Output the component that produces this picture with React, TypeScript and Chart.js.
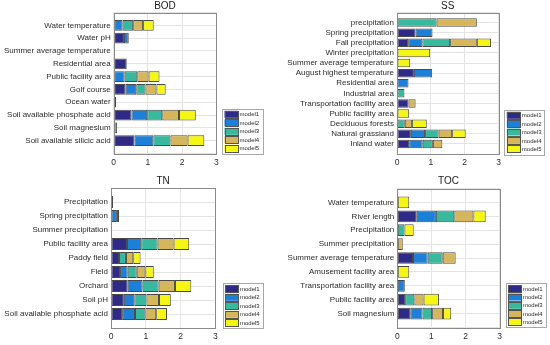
import React, { useEffect, useRef } from 'react';
import { Chart, registerables } from 'chart.js';

Chart.register(...registerables);

const MODELS = ['model1', 'model2', 'model3', 'model4', 'model5'];
const COLORS = ['#2e2a86', '#1c80d8', '#38b89c', '#d6b65c', '#f6f614'];

// ---------- BOD ----------
const BOD_LABELS = [
  'Water temperature', 'Water pH', 'Summer average temperature', 'Residential area',
  'Public facility area', 'Golf course', 'Ocean water', 'Soil available phosphate acid',
  'Soil magnesium', 'Soil available silicic acid',
];
const BOD_M1 = [0, 0.30, 0, 0.38, 0, 0.35, 0, 0.52, 0, 0.61];
const BOD_M2 = [0.26, 0.14, 0, 0, 0.32, 0.31, 0, 0.46, 0, 0.55];
const BOD_M3 = [0.31, 0, 0, 0, 0.37, 0.27, 0, 0.44, 0.10, 0.50];
const BOD_M4 = [0.29, 0, 0.04, 0, 0.33, 0.32, 0, 0.49, 0, 0.50];
const BOD_M5 = [0.31, 0, 0, 0, 0.32, 0.27, 0.07, 0.49, 0, 0.49];

// ---------- SS ----------
const SS_LABELS = [
  'precipitation', 'Spring precipitation', 'Fall precipitation', 'Winter precipitation',
  'Summer average temperature', 'August highest temperature', 'Residential area',
  'Industrial area', 'Transportation facility area', 'Public facility area',
  'Deciduous forests', 'Natural grassland', 'Inland water',
];
const SS_M1 = [0, 0.55, 0.33, 0, 0, 0.50, 0, 0, 0.34, 0, 0, 0.41, 0.36];
const SS_M2 = [0, 0.50, 0.42, 0, 0, 0.54, 0.34, 0, 0, 0, 0, 0.42, 0.40];
const SS_M3 = [1.17, 0, 0.82, 0, 0, 0, 0, 0.22, 0, 0, 0.23, 0.40, 0.30];
const SS_M4 = [1.19, 0, 0.79, 0, 0, 0, 0, 0, 0.21, 0, 0.21, 0.40, 0.28];
const SS_M5 = [0, 0, 0.42, 0.98, 0.39, 0, 0, 0, 0, 0.36, 0.44, 0.40, 0];

// ---------- TN ----------
const TN_LABELS = [
  'Precipitation', 'Spring precipitation', 'Summer precipitation', 'Public facility area',
  'Paddy field', 'Field', 'Orchard', 'Soil pH', 'Soil available phosphate acid',
];
const TN_M1 = [0, 0, 0, 0.46, 0.23, 0.26, 0.48, 0.37, 0.32];
const TN_M2 = [0, 0.17, 0, 0.41, 0, 0.22, 0.43, 0.30, 0.37];
const TN_M3 = [0.06, 0, 0, 0.47, 0.20, 0.26, 0.46, 0.35, 0.30];
const TN_M4 = [0, 0.03, 0.03, 0.46, 0.21, 0.25, 0.47, 0.36, 0.31];
const TN_M5 = [0, 0.03, 0, 0.45, 0.21, 0.24, 0.47, 0.34, 0.31];

// ---------- TOC ----------
const TOC_LABELS = [
  'Water temperature', 'River length', 'Precipitation', 'Summer precipitation',
  'Summer average temperature', 'Amusement facility area', 'Transportation facility area',
  'Public facility area', 'Soil magnesium',
];
const TOC_M1 = [0, 0.57, 0, 0, 0.46, 0, 0, 0.23, 0.38];
const TOC_M2 = [0, 0.56, 0, 0, 0.43, 0, 0.22, 0, 0.36];
const TOC_M3 = [0, 0.54, 0.21, 0, 0.44, 0, 0, 0.27, 0.28];
const TOC_M4 = [0, 0.56, 0, 0.16, 0.38, 0, 0, 0.27, 0.32];
const TOC_M5 = [0.35, 0.36, 0.27, 0, 0, 0.35, 0, 0.45, 0.24];

const X_MIN = 0;
const X_MAX = 3;

const FONT = "'Liberation Sans', Arial, Helvetica, sans-serif";
const TEXT = '#2b2b2b';

type Area = { left: number; right: number; top: number; bottom: number };
type Box = { x: number; y: number; w: number; h: number };

type PanelProps = {
  title: string;
  labels: string[];
  series: number[][];
  left: number;
  top: number;
  width: number;
  height: number;
  area: Area;
  legend: Box;
  titleGap: number;
};

function Panel(p: PanelProps) {
  const ref = useRef<HTMLCanvasElement | null>(null);
  useEffect(() => {
    const canvas = ref.current;
    if (!canvas) return;
    const padded = ['', ...p.labels, ''];
    const X_AXIS_H = 14;
    const deco = {
      id: 'panelDeco',
      afterDraw(chart: any) {
        const ctx = chart.ctx;
        const a = chart.chartArea;
        ctx.save();
        // axes box
        ctx.strokeStyle = '#8a8a8a';
        ctx.lineWidth = 1;
        ctx.strokeRect(Math.round(a.left) + 0.5, Math.round(a.top) + 0.5,
          Math.round(a.right) - Math.round(a.left), Math.round(a.bottom) - Math.round(a.top));
        // title
        ctx.fillStyle = '#1a1a1a';
        ctx.font = `10px ${FONT}`;
        ctx.textAlign = 'center';
        ctx.textBaseline = 'middle';
        ctx.fillText(p.title, (a.left + a.right) / 2, a.top - p.titleGap);
        // legend
        const L = p.legend;
        ctx.fillStyle = '#ffffff';
        ctx.fillRect(L.x, L.y, L.w, L.h);
        ctx.strokeStyle = '#a8a8a8';
        ctx.strokeRect(Math.round(L.x) + 0.5, Math.round(L.y) + 0.5, Math.round(L.w), Math.round(L.h));
        const n = chart.data.datasets.length;
        const step = (L.h - 11) / (n - 1);
        ctx.font = `6px ${FONT}`;
        ctx.textAlign = 'left';
        chart.data.datasets.forEach((ds: any, i: number) => {
          const cy = L.y + 5.8 + i * step;
          ctx.fillStyle = ds.backgroundColor;
          ctx.fillRect(L.x + 2.5, cy - 3.5, 13.5, 7);
          ctx.strokeStyle = '#555';
          ctx.strokeRect(Math.round(L.x + 2.5) + 0.5, Math.round(cy - 3.5) + 0.5, 13, 7);
          ctx.fillStyle = TEXT;
          ctx.fillText(ds.label, L.x + 17.5, cy + 0.5);
        });
        ctx.restore();
      },
    };
    const chart = new Chart(canvas, {
      type: 'bar',
      data: {
        labels: padded,
        datasets: MODELS.map((m, i) => ({
          label: m,
          data: [null, ...p.series[i].map((v) => (v > 0 ? v : null)), null],
          backgroundColor: COLORS[i],
          borderColor: '#4a4a4a',
          borderWidth: 1,
          borderSkipped: false,
          barPercentage: 0.84,
          categoryPercentage: 1,
        })),
      },
      options: {
        indexAxis: 'y',
        responsive: false,
        animation: false,
        events: [],
        layout: {
          padding: {
            left: 0,
            top: p.area.top,
            right: p.width - p.area.right,
            bottom: p.height - p.area.bottom - X_AXIS_H,
          },
        },
        plugins: {
          legend: { display: false },
          title: { display: false },
          tooltip: { enabled: false },
        },
        scales: {
          x: {
            type: 'linear',
            min: X_MIN,
            max: X_MAX,
            stacked: true,
            position: 'bottom',
            grid: { color: '#e4e4e4', drawTicks: false },
            border: { display: false },
            ticks: { stepSize: 1, padding: 4, font: { family: FONT, size: 8.5 }, color: TEXT },
            afterFit: (s: any) => { s.height = X_AXIS_H; },
          },
          y: {
            type: 'category',
            stacked: true,
            offset: false,
            grid: { color: '#e4e4e4', drawTicks: false, offset: false },
            border: { display: false },
            ticks: { autoSkip: false, padding: 3, font: { family: FONT, size: 8 }, color: TEXT },
            afterFit: (s: any) => { s.width = p.area.left; },
          },
        },
      } as any,
      plugins: [deco],
    });
    return () => chart.destroy();
  }, []);
  return (
    <canvas
      ref={ref}
      width={p.width}
      height={p.height}
      style={{ position: 'absolute', left: p.left, top: p.top, width: p.width, height: p.height }}
    />
  );
}

export default function App() {
  return (
    <div style={{ position: 'absolute', left: 0, top: 0, width: 550, height: 345, background: '#fff', overflow: 'hidden' }}>
      <Panel
        title="BOD"
        labels={BOD_LABELS}
        series={[BOD_M1, BOD_M2, BOD_M3, BOD_M4, BOD_M5]}
        left={0} top={0} width={275} height={172}
        area={{ left: 113.7, right: 216.3, top: 12.5, bottom: 153.5 }}
        legend={{ x: 222, y: 108.5, w: 40.5, h: 45 }}
        titleGap={6}
      />
      <Panel
        title="SS"
        labels={SS_LABELS}
        series={[SS_M1, SS_M2, SS_M3, SS_M4, SS_M5]}
        left={275} top={0} width={275} height={172}
        area={{ left: 122, right: 223.5, top: 12.5, bottom: 154 }}
        legend={{ x: 229.3, y: 109.5, w: 40, h: 44.5 }}
        titleGap={6}
      />
      <Panel
        title="TN"
        labels={TN_LABELS}
        series={[TN_M1, TN_M2, TN_M3, TN_M4, TN_M5]}
        left={0} top={172} width={275} height={173}
        area={{ left: 111, right: 215.3, top: 16, bottom: 156 }}
        legend={{ x: 222.5, y: 111, w: 40, h: 45 }}
        titleGap={7}
      />
      <Panel
        title="TOC"
        labels={TOC_LABELS}
        series={[TOC_M1, TOC_M2, TOC_M3, TOC_M4, TOC_M5]}
        left={275} top={172} width={275} height={173}
        area={{ left: 122.3, right: 224.7, top: 16.5, bottom: 155.5 }}
        legend={{ x: 230.5, y: 111, w: 39.5, h: 44 }}
        titleGap={7}
      />
    </div>
  );
}
